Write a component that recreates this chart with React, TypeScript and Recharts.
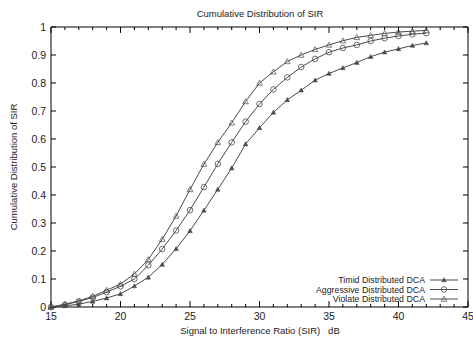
import React from 'react';
import { LineChart, Line, XAxis, YAxis, ReferenceArea, ReferenceLine } from 'recharts';

const sir = [15, 16, 17, 18, 19, 20, 21, 22, 23, 24, 25, 26, 27, 28, 29, 30, 31, 32, 33, 34, 35, 36, 37, 38, 39, 40, 41, 42];
const timid = [0, 0.004, 0.01, 0.02, 0.032, 0.047, 0.075, 0.106, 0.152, 0.208, 0.272, 0.345, 0.42, 0.496, 0.582, 0.64, 0.695, 0.74, 0.774, 0.81, 0.834, 0.854, 0.873, 0.894, 0.91, 0.922, 0.934, 0.943];
const aggressive = [0, 0.008, 0.02, 0.034, 0.053, 0.074, 0.1, 0.149, 0.207, 0.273, 0.346, 0.428, 0.511, 0.588, 0.662, 0.725, 0.777, 0.82, 0.857, 0.886, 0.91, 0.925, 0.936, 0.95, 0.96, 0.968, 0.974, 0.978];
const violate = [0, 0.01, 0.022, 0.038, 0.06, 0.082, 0.118, 0.17, 0.242, 0.325, 0.42, 0.51, 0.588, 0.658, 0.734, 0.8, 0.84, 0.877, 0.9, 0.92, 0.936, 0.951, 0.963, 0.97, 0.977, 0.982, 0.985, 0.988];

const xMajorTicks = [15, 20, 25, 30, 35, 40, 45];
const xMinorTicks = [16, 17, 18, 19, 21, 22, 23, 24, 26, 27, 28, 29, 31, 32, 33, 34, 36, 37, 38, 39, 41, 42, 43, 44];
const yTicks = [0, 0.1, 0.2, 0.3, 0.4, 0.5, 0.6, 0.7, 0.8, 0.9, 1];
const yTickLabels = ['0', '0.1', '0.2', '0.3', '0.4', '0.5', '0.6', '0.7', '0.8', '0.9', '1'];

const seriesNames = ['Timid Distributed DCA', 'Aggressive Distributed DCA', 'Violate Distributed DCA'];
const title = 'Cumulative Distribution of SIR';
const xLabel = 'Signal to Interference Ratio (SIR)\u00a0\u00a0 dB';
const yLabel = 'Cumulative Distribution of SIR';

const data = sir.map((x, i) => ({ x, timid: timid[i], aggressive: aggressive[i], violate: violate[i] }));

const X_MIN = 15, X_MAX = 45, Y_MIN = 0, Y_MAX = 1;
// tick lengths, in axis units (≈6px / 3px vertical, ≈5px horizontal)
const MAJ_LEN_Y = 0.021, MIN_LEN_Y = 0.011, LEN_X = 0.36;

const LINE = '#4a4a4a';
const FONT = '"Liberation Sans", Arial, Helvetica, sans-serif';

const FilledTri = (props: any) => {
  const { cx, cy } = props;
  if (cx == null || cy == null) return null;
  const s = 2.3;
  return <path d={`M${cx},${cy - s} L${cx + s},${cy + s * 0.8} L${cx - s},${cy + s * 0.8} Z`} fill={LINE} stroke={LINE} strokeWidth={0.5} />;
};
const OpenCircle = (props: any) => {
  const { cx, cy } = props;
  if (cx == null || cy == null) return null;
  return <circle cx={cx} cy={cy} r={2.8} fill="none" stroke={LINE} strokeWidth={0.8} />;
};
const OpenTri = (props: any) => {
  const { cx, cy } = props;
  if (cx == null || cy == null) return null;
  const s = 2.8;
  return <path d={`M${cx},${cy - s} L${cx + s},${cy + s * 0.8} L${cx - s},${cy + s * 0.8} Z`} fill="none" stroke={LINE} strokeWidth={0.7} />;
};

const markers = [FilledTri, OpenCircle, OpenTri];

const tickSegments: { a: { x: number; y: number }; b: { x: number; y: number } }[] = [];
xMajorTicks.forEach((x) => {
  tickSegments.push({ a: { x, y: Y_MIN }, b: { x, y: Y_MIN + MAJ_LEN_Y } });
  tickSegments.push({ a: { x, y: Y_MAX }, b: { x, y: Y_MAX - MAJ_LEN_Y } });
});
xMinorTicks.forEach((x) => {
  tickSegments.push({ a: { x, y: Y_MIN }, b: { x, y: Y_MIN + MIN_LEN_Y } });
  tickSegments.push({ a: { x, y: Y_MAX }, b: { x, y: Y_MAX - MIN_LEN_Y } });
});
yTicks.forEach((y) => {
  tickSegments.push({ a: { x: X_MIN, y }, b: { x: X_MIN + LEN_X, y } });
  tickSegments.push({ a: { x: X_MAX, y }, b: { x: X_MAX - LEN_X, y } });
});

export default function App() {
  return (
    <div style={{ position: 'absolute', left: 0, top: 0, width: 473, height: 339, background: '#fff', fontFamily: FONT }}>
      <LineChart width={473} height={339} data={data} margin={{ top: 27, right: 5, bottom: 0, left: 11 }}>
        <XAxis xAxisId="main" type="number" dataKey="x" domain={[X_MIN, X_MAX]} ticks={xMajorTicks} interval={0} orientation="bottom" height={32} tickSize={0} tickMargin={6} axisLine={false} tickLine={false} tick={{ fontSize: 10.5, fill: '#222', fontFamily: FONT }} />
        <YAxis yAxisId="main" type="number" domain={[Y_MIN, Y_MAX]} ticks={yTicks} interval={0} orientation="left" width={40} tickSize={0} tickMargin={5} axisLine={false} tickLine={false} tickFormatter={(v: number) => yTickLabels[yTicks.indexOf(v)] ?? String(v)} tick={{ fontSize: 10.5, fill: '#222', fontFamily: FONT }} />
        <ReferenceArea xAxisId="main" yAxisId="main" x1={X_MIN} x2={X_MAX} y1={Y_MIN} y2={Y_MAX} fill="none" fillOpacity={0} stroke="#000" strokeWidth={1} ifOverflow="visible" />
        {tickSegments.map((s, i) => (
          <ReferenceLine key={`t${i}`} xAxisId="main" yAxisId="main" segment={[s.a, s.b]} stroke="#000" strokeWidth={1} ifOverflow="visible" />
        ))}
        <Line xAxisId="main" yAxisId="main" type="linear" dataKey="timid" name={seriesNames[0]} stroke={LINE} strokeWidth={1} dot={<FilledTri />} isAnimationActive={false} />
        <Line xAxisId="main" yAxisId="main" type="linear" dataKey="aggressive" name={seriesNames[1]} stroke={LINE} strokeWidth={1} dot={<OpenCircle />} isAnimationActive={false} />
        <Line xAxisId="main" yAxisId="main" type="linear" dataKey="violate" name={seriesNames[2]} stroke={LINE} strokeWidth={1} dot={<OpenTri />} isAnimationActive={false} />
      </LineChart>
      <svg width={473} height={339} style={{ position: 'absolute', left: 0, top: 0, pointerEvents: 'none' }}>
        <text x={260} y={17} textAnchor="middle" fontSize={9.5} fill="#222" fontFamily={FONT}>{title}</text>
        <text x={260} y={334} textAnchor="middle" fontSize={9.5} fill="#222" fontFamily={FONT}>{xLabel}</text>
        <text x={0} y={0} transform="translate(17,167) rotate(-90)" textAnchor="middle" fontSize={9.5} fill="#222" fontFamily={FONT}>{yLabel}</text>
        {seriesNames.map((name, i) => {
          const y = 280 + i * 9.5;
          const M = markers[i];
          return (
            <g key={name}>
              <text x={425} y={y + 3} textAnchor="end" fontSize={8.8} fill="#222" fontFamily={FONT}>{name}</text>
              <line x1={430} x2={458} y1={y} y2={y} stroke={LINE} strokeWidth={1} />
              <M cx={444} cy={y} />
            </g>
          );
        })}
      </svg>
    </div>
  );
}
